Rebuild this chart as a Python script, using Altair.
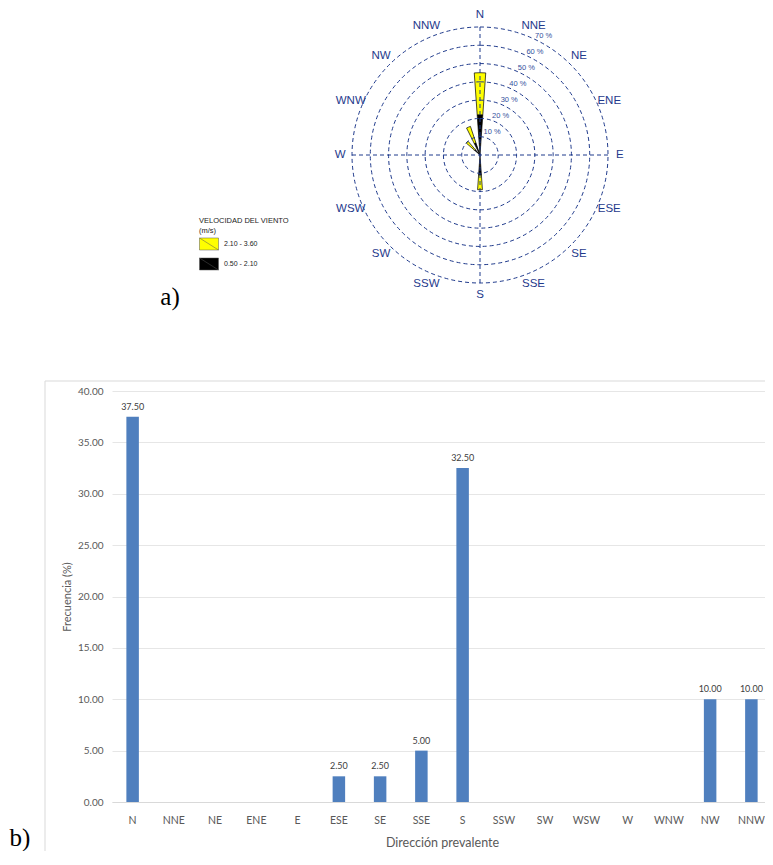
import altair as alt
import pandas as pd

# ---------------- data ----------------
directions = ["N", "NNE", "NE", "ENE", "E", "ESE", "SE", "SSE",
              "S", "SSW", "SW", "WSW", "W", "WNW", "NW", "NNW"]
bar_freq = [37.5, 0, 0, 0, 0, 2.5, 2.5, 5.0, 32.5, 0, 0, 0, 0, 0, 10.0, 10.0]

# wind rose, percentage
rose_low = [22, 0, 0, 0, 0, 0, 0, 0, 11, 0, 0, 0, 0, 0, 4, 7]     # 0.50 - 2.10
rose_high = [23, 0, 0, 0, 0, 0, 0, 0, 8, 0, 0, 0, 0, 0, 6, 9.5]   # 2.10 - 3.60
speed_bins = ["2.10 - 3.60", "0.50 - 2.10"]
bin_colors = ["#ffff00", "#000000"]
rings = [10, 20, 30, 40, 50, 60, 70]

# ---------------- layout / style ----------------
W, H = 653, 411             # plot area (svg kept inside the page width)
X_RANGE = 660               # band range of the bar chart, runs to the page edge
CX, CY = 368, -236          # rose centre relative to bar plot origin
R_PX = 128                  # pixel radius of the 70 % ring
HALF = 4                    # half width of a petal, degrees
NAVY = "#1f3a8c"
BLUE = "#4f7fbe"
GREY = "#595959"

theta_scale = alt.Scale(domain=[0, 360], range=[0, 6.283185307179586])
radius_scale = alt.Scale(type="linear", domain=[0, 70], range=[0, R_PX], zero=True)

# ---------------- tables ----------------
rows = []
for i, d in enumerate(directions):
    ang = i * 22.5
    lo, hi = rose_low[i], rose_high[i]
    if lo > 0:
        rows.append(dict(dir=d, bin=speed_bins[1], r0=0, r1=lo, t0=ang - HALF, t1=ang + HALF))
    if hi > 0:
        rows.append(dict(dir=d, bin=speed_bins[0], r0=lo, r1=lo + hi, t0=ang - HALF, t1=ang + HALF))
petal_df = pd.DataFrame(rows)

ring_df = pd.DataFrame({"r": rings, "t0": [0] * len(rings), "t1": [360] * len(rings),
                        "lab": [f"{r} %" for r in rings],
                        "rl": [r + 4 for r in rings], "tl": [28] * len(rings)})
dir_df = pd.DataFrame({"dir": directions, "ang": [i * 22.5 for i in range(16)],
                       "r": [76.5] * 16})
bar_df = pd.DataFrame({"dir": directions, "freq": bar_freq})
one = pd.DataFrame({"a": [0]})

# ---------------- wind rose ----------------
petals = alt.Chart(petal_df).mark_arc(stroke="#000000", strokeWidth=0.7).encode(
    x=alt.value(CX), y=alt.value(CY),
    theta=alt.Theta("t0:Q", scale=theta_scale, stack=None),
    theta2="t1:Q",
    radius=alt.Radius("r1:Q", scale=radius_scale, stack=None),
    radius2="r0:Q",
    fill=alt.Fill("bin:N", scale=alt.Scale(domain=speed_bins, range=bin_colors),
                  legend=alt.Legend(
                      title=["VELOCIDAD DEL VIENTO", "(m/s)"],
                      orient="none", legendX=87, legendY=-174.5,
                      symbolType="M-1,-0.632H1V0.632H-1Z M-1,-0.632L1,0.632",
                      symbolSize=361, symbolStrokeColor="#555555", symbolStrokeWidth=0.5,
                      labelFont="Liberation Sans", labelFontSize=7, labelColor="#222222",
                      labelOffset=5,
                      titleFont="Liberation Sans", titleFontSize=7.5, titleFontWeight="normal",
                      titleColor="#222222", titleLineHeight=10, titlePadding=0,
                      rowPadding=2, padding=0)),
)

ring_arcs = alt.Chart(ring_df).mark_arc(filled=False, stroke=NAVY, strokeWidth=1,
                                        strokeDash=[4, 3]).encode(
    x=alt.value(CX), y=alt.value(CY),
    theta=alt.Theta("t0:Q", scale=theta_scale, stack=None),
    theta2="t1:Q",
    radius=alt.Radius("r:Q", scale=radius_scale, stack=None),
)

v_line = alt.Chart(one).mark_rule(color=NAVY, strokeWidth=1, strokeDash=[4, 3]).encode(
    x=alt.value(CX), x2=alt.value(CX), y=alt.value(CY - R_PX), y2=alt.value(CY + R_PX))
h_line = alt.Chart(one).mark_rule(color=NAVY, strokeWidth=1, strokeDash=[4, 3]).encode(
    x=alt.value(CX - R_PX), x2=alt.value(CX + R_PX), y=alt.value(CY), y2=alt.value(CY))

ring_labels = alt.Chart(ring_df).mark_text(font="Liberation Sans", fontSize=7.5,
                                           color="#34509c", align="center",
                                           baseline="middle").encode(
    x=alt.value(CX), y=alt.value(CY),
    theta=alt.Theta("tl:Q", scale=theta_scale, stack=None),
    radius=alt.Radius("rl:Q", scale=radius_scale, stack=None),
    text="lab:N",
)

dir_labels = alt.Chart(dir_df).mark_text(font="Liberation Sans", fontSize=11.5,
                                         color=NAVY, align="center",
                                         baseline="middle").encode(
    x=alt.value(CX), y=alt.value(CY),
    theta=alt.Theta("ang:Q", scale=theta_scale, stack=None),
    radius=alt.Radius("r:Q", scale=radius_scale, stack=None),
    text="dir:N",
)

tag_a = alt.Chart(one).mark_text(text="a)", font="Liberation Serif", fontSize=25,
                                 color="#000000", align="center", baseline="middle").encode(
    x=alt.value(58), y=alt.value(-94))
tag_b = alt.Chart(one).mark_text(text="b)", font="Liberation Serif", fontSize=25,
                                 color="#000000", align="center", baseline="middle").encode(
    x=alt.value(-92), y=alt.value(447))

# ---------------- bar chart ----------------
border = alt.Chart(one).mark_rect(filled=False, stroke="#d9d9d9", strokeWidth=1).encode(
    x=alt.value(-67), x2=alt.value(700), y=alt.value(-10), y2=alt.value(472))

x_enc = alt.X("dir:N", sort=directions,
              scale=alt.Scale(paddingInner=0, paddingOuter=0, range=[0, X_RANGE]),
              axis=alt.Axis(labelAngle=0, ticks=False, domainColor="#d9d9d9",
                            labelPadding=13, labelFont="Lato", labelFontSize=10.5,
                            labelColor=GREY, grid=False,
                            title="Dirección prevalente", titleFont="Lato",
                            titleFontSize=12.5, titleFontWeight="normal",
                            titleColor=GREY, titlePadding=11))
y_enc = alt.Y("freq:Q", scale=alt.Scale(domain=[0, 40]),
              axis=alt.Axis(values=[0, 5, 10, 15, 20, 25, 30, 35, 40], format=".2f",
                            domain=False, ticks=False, gridColor="#e6e6e6",
                            labelPadding=9, labelFont="Lato", labelFontSize=10,
                            labelColor=GREY,
                            title="Frecuencia (%)", titleFont="Lato", titleFontSize=11,
                            titleFontWeight="normal", titleColor=GREY, titlePadding=5))

bars = alt.Chart(bar_df).mark_bar(size=12.5, color=BLUE).encode(x=x_enc, y=y_enc)
bar_text = alt.Chart(bar_df).transform_filter("datum.freq > 0").mark_text(
    dy=-10, font="Lato", fontSize=9, color="#404040").encode(
    x=alt.X("dir:N", sort=directions), y="freq:Q",
    text=alt.Text("freq:Q", format=".2f"))

chart = alt.layer(
    border, bars, bar_text,
    petals, ring_arcs, v_line, h_line, ring_labels, dir_labels,
    tag_a, tag_b,
).properties(
    width=W, height=H,
    autosize=alt.AutoSizeParams(type="none"),
    padding={"left": 104, "top": 383, "right": 0, "bottom": 49},
).configure_view(stroke="transparent")

chart.save("out.html", embed_options={"renderer": "svg", "actions": False})
